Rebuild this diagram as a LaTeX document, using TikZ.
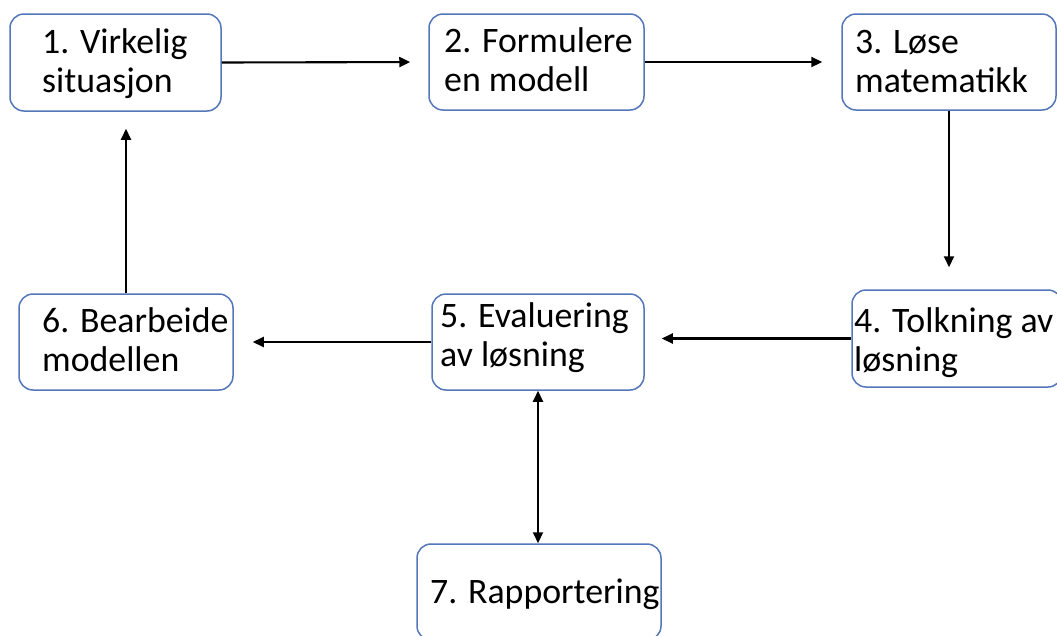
\documentclass[tikz,border=0pt]{standalone}
\usepackage{fontspec}
\setmainfont{Carlito}
\usetikzlibrary{arrows.meta}
\definecolor{boxblue}{RGB}{84,118,186}
\newcommand{\twoline}[2]{\vtop{\hbox{\strut #1}\hbox{\strut #2}}}
\begin{document}
\begin{tikzpicture}[x=1pt,y=-1pt,
  box/.style={draw=boxblue, line width=1.5pt, rounded corners=14pt, fill=white, inner sep=0pt},
  lbl/.style={anchor=base west, inner sep=0pt, font=\fontsize{35.8}{39}\selectfont},
  tipa/.tip={Triangle[length=11pt,width=10pt]},
  conn/.style={line width=2.1pt, -tipa}]
\useasboundingbox (0,0) rectangle (1057,635);
% boxes
\node[box, minimum width=211, minimum height=97] (b1) at (115.5,62.5) {};
\node[box, minimum width=215, minimum height=96] (b2) at (536.5,62) {};
\node[box, minimum width=214, minimum height=96] (b3) at (949,62) {};
\node[box, minimum width=210, minimum height=97] (b4) at (957,338.5) {};
\node[box, minimum width=212, minimum height=96] (b5) at (538,342) {};
\node[box, minimum width=214, minimum height=96] (b6) at (126,342) {};
\node[box, minimum width=244, minimum height=96] (b7) at (539,592) {};
% labels
\node[lbl] (t1) at (42,53) {\twoline{1. Virkelig}{situasjon}};
\node[lbl] (t2) at (444,52) {\twoline{2. Formulere}{en modell}};
\node[lbl] (t3) at (855,53) {\twoline{3. Løse}{matematikk}};
\node[lbl] (t4) at (854,332) {\twoline{4. Tolkning av}{løsning}};
\node[lbl] (t5) at (440,327) {\twoline{5. Evaluering}{av løsning}};
\node[lbl] (t6) at (42,332) {\twoline{6. Bearbeide}{modellen}};
\node[lbl] (t7) at (430,603) {7. Rapportering};
% connectors
\draw[conn, shorten >=18pt] (b1.east) -- (b2.west);
\draw[conn, shorten >=19pt] (b2.east) -- (b3.west);
\draw[conn, shorten >=22pt] (b3.south) -- (b3.south |- b4.north);
\draw[conn, shorten >=17pt] (b4.west) -- (b4.west -| b5.east);
\draw[conn, shorten >=19pt] (b5.west) -- (b5.west -| b6.east);
\draw[conn, shorten >=17pt] (b6.north) -- (b6.north |- b1.south);
\draw[line width=2.1pt, tipa-tipa] (b5.south) -- (b5.south |- b7.north);
\end{tikzpicture}
\end{document}
